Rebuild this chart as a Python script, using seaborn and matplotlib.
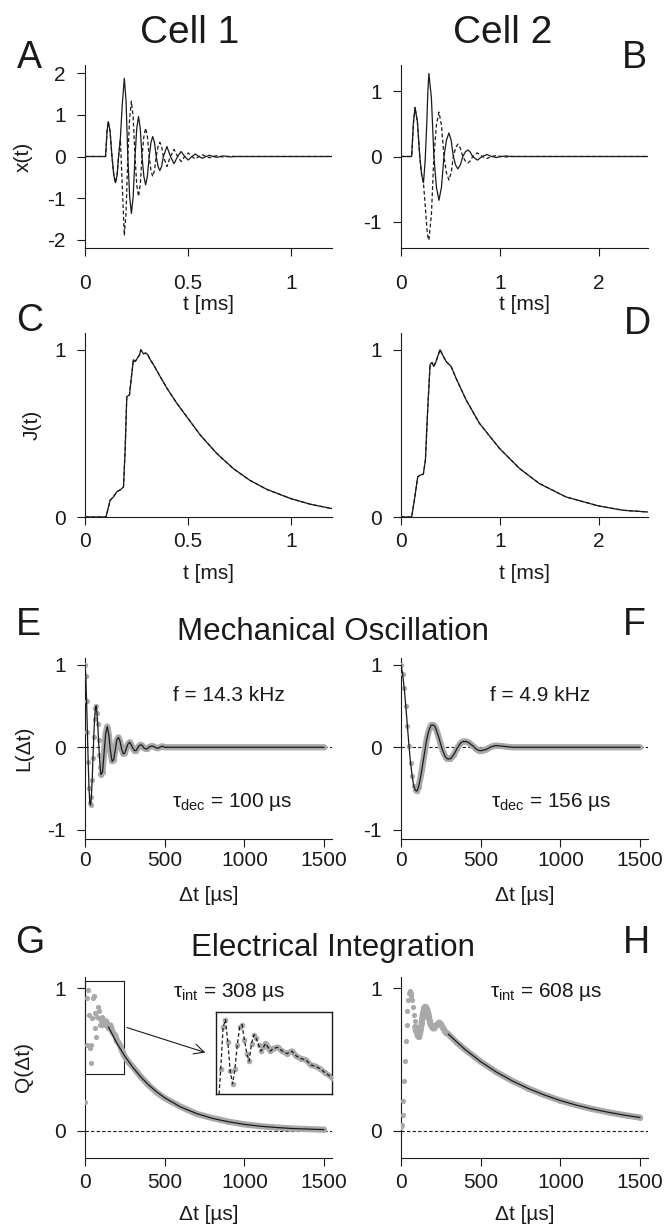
import numpy as np
import seaborn as sns
import matplotlib.pyplot as plt
from matplotlib.patches import Rectangle

# ---------------- data ----------------
# A: x(t), cell 1 (t in ms); solid and dashed responses
a_t = [0, 0.100, 0.107, 0.113, 0.122, 0.131, 0.140, 0.148, 0.156, 0.163,
       0.172, 0.181, 0.191, 0.1995, 0.208, 0.217, 0.2255, 0.234, 0.243, 0.2515,
       0.260, 0.2685, 0.277, 0.286, 0.2945, 0.303, 0.312, 0.3205, 0.329, 0.3375,
       0.346, 0.355, 0.3635, 0.372, 0.381, 0.398, 0.415, 0.4325, 0.450, 0.467,
       0.484, 0.5015, 0.519, 0.536, 0.553, 0.5705, 0.588, 0.605, 0.622, 0.640,
       0.657, 0.674, 0.691, 0.709, 0.726, 1.2]
a_solid = [0, 0, 0.60, 0.84, 0.60, 0, -0.45, -0.63, -0.45, 0,
           0.45, 1.25, 1.88, 1.33, 0, -0.97, -1.37, -0.97, 0, 0.68,
           0.96, 0.68, 0, -0.48, -0.68, -0.48, 0, 0.34, 0.48, 0.34,
           0, -0.24, -0.34, -0.24, 0, 0.24, 0, -0.17, 0, 0.12,
           0, -0.085, 0, 0.06, 0, -0.042, 0, 0.03, 0, -0.02,
           0, 0.014, 0, -0.01, 0, 0]
a_dashed = [0, 0, 0.60, 0.84, 0.60, 0, -0.45, -0.63, -0.45, 0,
            0.40, -0.70, -1.90, -1.35, 0, 0.94, 1.33, 0.94, 0, -0.68,
            -0.96, -0.68, 0, 0.48, 0.68, 0.48, 0, -0.34, -0.48, -0.34,
            0, 0.24, 0.34, 0.24, 0, -0.24, 0, 0.17, 0, -0.12,
            0, 0.085, 0, -0.06, 0, 0.042, 0, -0.03, 0, 0.02,
            0, -0.014, 0, 0.01, 0, 0]

# B: x(t), cell 2
b_t = [0, 0.108, 0.125, 0.142, 0.166, 0.190, 0.209, 0.228,
       0.245, 0.262, 0.272, 0.282, 0.3075, 0.333, 0.3585, 0.384,
       0.4095, 0.435, 0.46, 0.485, 0.5075, 0.53, 0.5525, 0.575,
       0.60, 0.626, 0.651, 0.677, 0.70, 0.725,
       0.773, 0.822, 0.870, 0.917, 0.965, 1.012, 1.06, 1.11, 2.5]
b_solid = [0, 0, 0.50, 0.75, 0.53, 0, -0.28, -0.40,
           -0.05, 0.55, 1.0, 1.27, 0.90, 0, -0.47, -0.67,
           -0.47, 0, 0.25, 0.36, 0.25, 0, -0.13, -0.19,
           -0.13, 0, 0.07, 0.10, 0.07, 0,
           -0.055, 0, 0.03, 0, -0.016, 0, 0.008, 0, 0]
b_dashed = [0, 0, 0.50, 0.75, 0.53, 0, -0.28, -0.42,
            -0.75, -1.10, -1.23, -1.28, -0.90, 0, 0.48, 0.68,
            0.48, 0, -0.25, -0.36, -0.25, 0, 0.13, 0.19,
            0.13, 0, -0.07, -0.10, -0.07, 0,
            0.055, 0, -0.03, 0, 0.016, 0, -0.008, 0, 0]

# C: J(t), cell 1
c_t = [0, 0.102, 0.122, 0.138, 0.154, 0.174, 0.187, 0.195, 0.203, 0.216,
       0.224, 0.235, 0.244, 0.255, 0.265, 0.271, 0.284, 0.295, 0.305, 0.317,
       0.333, 0.365, 0.398, 0.446, 0.5, 0.56, 0.64, 0.72, 0.80, 0.885,
       1.0, 1.096, 1.2]
c_j = [0, 0, 0.10, 0.12, 0.15, 0.165, 0.18, 0.40, 0.72, 0.73,
       0.82, 0.94, 0.93, 0.95, 0.97, 1.0, 0.976, 0.98, 0.97, 0.94,
       0.91, 0.84, 0.77, 0.68, 0.59, 0.49, 0.38, 0.29, 0.22, 0.164,
       0.11, 0.076, 0.05]

# D: J(t), cell 2
d_t = [0, 0.108, 0.135, 0.169, 0.193, 0.226, 0.247, 0.27, 0.294, 0.314,
       0.331, 0.355, 0.372, 0.395, 0.42, 0.456, 0.507, 0.557, 0.659, 0.794,
       0.997, 1.2, 1.4, 1.67, 2.0, 2.25, 2.5]
d_j = [0, 0, 0.10, 0.24, 0.25, 0.256, 0.34, 0.64, 0.91, 0.924,
       0.90, 0.93, 0.96, 1.0, 0.97, 0.93, 0.90, 0.83, 0.70, 0.56,
       0.41, 0.29, 0.20, 0.12, 0.066, 0.04, 0.03]

# E: L(dt), cell 1 (dt in us)
e_lag = ([0, 5, 10, 15, 20, 25, 30, 35, 40, 45, 50, 55, 60, 65, 70, 75, 80, 85, 90, 95, 100]
         + [110, 120, 130, 140, 150, 160, 170, 180, 190, 200, 210, 220, 230, 240, 250,
            260, 270, 280, 290, 300, 310, 320, 330, 340, 350, 360, 370, 380, 390, 400,
            410, 420, 430, 440, 450, 460, 470, 480, 490, 500]
         + [600, 700, 800, 900, 1000, 1100, 1200, 1300, 1400, 1500])
e_val = ([1.00, 0.86, 0.56, 0.19, -0.18, -0.49, -0.67, -0.70, -0.60, -0.40, -0.13,
          0.13, 0.34, 0.47, 0.50, 0.42, 0.28, 0.09, -0.09, -0.24, -0.33]
         + [-0.30, -0.06, 0.17, 0.25, 0.14, -0.05, -0.17, -0.15, -0.03, 0.09, 0.12, 0.07,
            -0.02, -0.08, -0.07, -0.01, 0.04, 0.06, 0.03, -0.01, -0.04, -0.04, -0.01, 0.02,
            0.03, 0.02, -0.01, -0.02, -0.02, 0.00, 0.01, 0.015, 0.01, 0.0, -0.01, -0.01,
            0.0, 0.01, 0.01, 0.0]
         + [0, 0, 0, 0, 0, 0, 0, 0, 0, 0])

# F: L(dt), cell 2
f_lag = list(range(0, 610, 10)) + [700, 800, 900, 1000, 1100, 1200, 1300, 1400, 1500]
f_val = [1.00, 0.89, 0.72, 0.50, 0.26, 0.02, -0.19, -0.35, -0.47, -0.52,
         -0.53, -0.48, -0.39, -0.28, -0.16, -0.04, 0.08, 0.17, 0.23, 0.27,
         0.27, 0.26, 0.22, 0.16, 0.10, 0.03, -0.03, -0.08, -0.12, -0.14,
         -0.14, -0.14, -0.12, -0.09, -0.06, -0.02, 0.01, 0.04, 0.06, 0.07,
         0.07, 0.07, 0.06, 0.05, 0.03, 0.02, 0.00, -0.02, -0.03, -0.04,
         -0.04, -0.04, -0.03, -0.03, -0.02, -0.01, 0.00, 0.01, 0.01, 0.02,
         0.02, 0, 0, 0, 0, 0, 0, 0, 0, 0]

# G: Q(dt), cell 1 data and exponential fit
g_lag = ([3, 10, 15, 20, 25, 30, 35, 40, 45, 50, 55, 60, 65, 70, 75, 80, 85, 90, 95,
          100, 105, 110, 115, 120]
         + [130, 140, 150, 160, 170, 180, 190, 200, 210, 220, 230]
         + [245, 275, 300, 350, 400, 450, 500]
         + [600, 700, 800, 900, 1000, 1100, 1200, 1300, 1400, 1500])
g_q = ([0.20, 0.60, 0.93, 0.99, 0.81, 0.58, 0.48, 0.60, 0.79, 0.93, 0.95, 0.83, 0.72,
        0.66, 0.80, 0.87, 0.84, 0.79, 0.74, 0.77, 0.80, 0.77, 0.74, 0.76]
       + [0.77, 0.74, 0.72, 0.74, 0.70, 0.68, 0.67, 0.63, 0.62, 0.60, 0.57]
       + [0.53, 0.48, 0.45, 0.38, 0.32, 0.27, 0.23]
       + [0.17, 0.12, 0.09, 0.065, 0.046, 0.033, 0.024, 0.017, 0.013, 0.009])
g_fit_lag = [147, 200, 250, 300, 350, 400, 450, 500, 600, 700, 800, 900, 1000,
             1100, 1200, 1300, 1400, 1500]
g_fit = [0.73, 0.616, 0.524, 0.446, 0.379, 0.322, 0.274, 0.233, 0.168, 0.122,
         0.088, 0.064, 0.046, 0.033, 0.024, 0.017, 0.013, 0.009]

# H: Q(dt), cell 2 data and exponential fit
h_lag = (list(range(0, 195, 5)) + [200, 210, 220, 230, 240, 250, 260, 270, 280, 296,
                                  350, 400, 500, 600, 700, 800, 900, 1000, 1100,
                                  1200, 1300, 1400, 1500])
h_q = [0.03, 0.04, 0.11, 0.21, 0.35, 0.49, 0.63, 0.74, 0.84, 0.92,
       0.97, 0.98, 0.97, 0.95, 0.92, 0.87, 0.81, 0.77, 0.73, 0.70,
       0.69, 0.67, 0.66, 0.67, 0.69, 0.72, 0.76, 0.80, 0.83, 0.86,
       0.87, 0.87, 0.86, 0.85, 0.83, 0.80, 0.77, 0.75, 0.74,
       0.72, 0.72, 0.74, 0.75, 0.76, 0.75, 0.73, 0.71, 0.69, 0.68,
       0.62, 0.573, 0.486, 0.412, 0.35, 0.297, 0.252, 0.213, 0.181,
       0.154, 0.131, 0.111, 0.094]
h_fit_lag = [296, 400, 500, 600, 700, 800, 900, 1000, 1100, 1200, 1300, 1400, 1500]
h_fit = [0.68, 0.573, 0.486, 0.412, 0.35, 0.297, 0.252, 0.213, 0.181, 0.154,
         0.131, 0.111, 0.094]

# ---------------- style ----------------
sns.set_theme(style="ticks", rc={"axes.edgecolor": "k", "xtick.color": "k",
                                 "ytick.color": "k", "text.color": "k",
                                 "axes.labelcolor": "k", "axes.linewidth": 0.8})
plt.rcParams["font.family"] = ["Liberation Sans", "DejaVu Sans"]
plt.rcParams["mathtext.fontset"] = "custom"
plt.rcParams["mathtext.rm"] = "Liberation Sans"
plt.rcParams["mathtext.it"] = "Liberation Sans:italic"
plt.rcParams["axes.unicode_minus"] = False

GRAY = "#a9a9a9"
DASH = (0, (3, 2))
W, H = 666, 1226
fig = plt.figure(figsize=(W / 100, H / 100), dpi=100)


def panel(x0, y0, x1, y1):
    return fig.add_axes([x0 / W, 1 - y1 / H, (x1 - x0) / W, (y1 - y0) / H])


def finish(ax, xlim, xticks, xlabels, ylim, yticks, xpad, xlabel, ylabel=None, ylab_x=-0.21):
    ax.set_xlim(xlim)
    ax.set_ylim(ylim)
    ax.set_xticks(xticks, xlabels)
    ax.set_yticks(yticks, [str(v) for v in yticks])
    ax.tick_params(direction="out", length=6, width=0.8, labelsize=15)
    ax.tick_params(axis="x", pad=xpad)
    ax.tick_params(axis="y", pad=8)
    sns.despine(ax=ax)
    h = ax.get_position().height * H
    ax.set_xlabel(xlabel, fontsize=15)
    ax.xaxis.set_label_coords(0.5, -47 / h)
    if ylabel:
        ax.set_ylabel(ylabel, fontsize=15)
        ax.yaxis.set_label_coords(ylab_x, 0.5)


def line(ax, x, y, **kw):
    sns.lineplot(x=x, y=y, ax=ax, estimator=None, sort=False, **kw)


def data_dots(ax, lag, val, band_from, s=14, band_lw=4.5):
    lag = np.asarray(lag)
    val = np.asarray(val)
    m = lag >= band_from
    line(ax, lag[m], val[m], color=GRAY, lw=band_lw, solid_capstyle="round", zorder=2)
    sns.scatterplot(x=lag, y=val, ax=ax, color=GRAY, s=s, linewidth=0, zorder=3)


# ---- A / B ----
axA = panel(85, 65, 332, 248)
line(axA, a_t, a_solid, color="k", lw=0.9)
line(axA, a_t, a_dashed, color="k", lw=0.9, linestyle=DASH)
finish(axA, (0, 1.2), [0, 0.5, 1], ["0", "0.5", "1"], (-2.2, 2.2), [-2, -1, 0, 1, 2],
       13, "t [ms]", "x(t)")

axB = panel(401, 65, 648, 248)
line(axB, b_t, b_solid, color="k", lw=0.9)
line(axB, b_t, b_dashed, color="k", lw=0.9, linestyle=DASH)
finish(axB, (0, 2.5), [0, 1, 2], ["0", "1", "2"], (-1.4, 1.4), [-1, 0, 1], 13, "t [ms]")

# ---- C / D ----
axC = panel(85, 333, 332, 517)
line(axC, c_t, c_j, color="k", lw=0.9)
line(axC, c_t, c_j, color="k", lw=0.9, linestyle=DASH)
finish(axC, (0, 1.2), [0, 0.5, 1], ["0", "0.5", "1"], (0, 1.1), [0, 1], 5, "t [ms]",
       "J(t)", ylab_x=-0.174)

axD = panel(401, 333, 648, 517)
line(axD, d_t, d_j, color="k", lw=0.9)
line(axD, d_t, d_j, color="k", lw=0.9, linestyle=DASH)
finish(axD, (0, 2.5), [0, 1, 2], ["0", "1", "2"], (0, 1.1), [0, 1], 5, "t [ms]")

# ---- E / F ----
lag_ticks = [0, 500, 1000, 1500]
lag_labels = ["0", "500", "1000", "1500"]

axE = panel(85, 658, 332, 839)
axE.axhline(0, color="k", lw=0.8, ls=DASH, zorder=1)
data_dots(axE, e_lag, e_val, 100)
line(axE, e_lag, e_val, color="k", lw=0.9, zorder=4)
finish(axE, (0, 1550), lag_ticks, lag_labels, (-1.11, 1.08), [-1, 0, 1], 3,
       "Δt [µs]", "L(Δt)")
axE.text(0.583, 0.764, "f = 14.3 kHz", transform=axE.transAxes, ha="center",
         va="baseline", fontsize=15)
axE.text(0.595, 0.177, "τ$_{\\mathrm{dec}}$ = 100 µs", transform=axE.transAxes,
         ha="center", va="baseline", fontsize=15)

axF = panel(401, 658, 648, 839)
axF.axhline(0, color="k", lw=0.8, ls=DASH, zorder=1)
data_dots(axF, f_lag, f_val, 100)
line(axF, f_lag, f_val, color="k", lw=0.9, zorder=4)
finish(axF, (0, 1550), lag_ticks, lag_labels, (-1.11, 1.08), [-1, 0, 1], 3, "Δt [µs]")
axF.text(0.561, 0.764, "f = 4.9 kHz", transform=axF.transAxes, ha="center",
         va="baseline", fontsize=15)
axF.text(0.609, 0.177, "τ$_{\\mathrm{dec}}$ = 156 µs", transform=axF.transAxes,
         ha="center", va="baseline", fontsize=15)

# ---- G / H ----
axG = panel(85, 977, 332, 1158)
axG.axhline(0, color="k", lw=0.8, ls=DASH, zorder=1)
data_dots(axG, g_lag, g_q, 120)
line(axG, g_fit_lag, g_fit, color="k", lw=0.9, zorder=4)
finish(axG, (0, 1550), lag_ticks, lag_labels, (-0.19, 1.08), [0, 1], 5,
       "Δt [µs]", "Q(Δt)")
axG.text(0.585, 0.89, "τ$_{\\mathrm{int}}$ = 308 µs", transform=axG.transAxes,
         ha="center", va="baseline", fontsize=15)
axG.add_patch(Rectangle((0, 0.40), 245, 0.65, fill=False, ec="k", lw=0.8, clip_on=False))
axG.annotate("", xy=(755, 0.55), xytext=(264, 0.725),
             arrowprops=dict(arrowstyle="->", color="k", lw=0.8, mutation_scale=18,
                             shrinkA=0, shrinkB=0))

axI = panel(216, 1012, 332, 1094)
data_dots(axI, g_lag, g_q, 100, s=16, band_lw=4)
line(axI, g_lag, g_q, color="k", lw=0.9, linestyle=DASH, zorder=4)
axI.set_xlim(0, 245)
axI.set_ylim(0.40, 1.05)
axI.set_xticks([])
axI.set_yticks([])
axI.set_xlabel("")
axI.set_ylabel("")
for sp in axI.spines.values():
    sp.set_linewidth(1.0)

axH = panel(401, 977, 648, 1158)
axH.axhline(0, color="k", lw=0.8, ls=DASH, zorder=1)
data_dots(axH, h_lag, h_q, 90)
line(axH, h_fit_lag, h_fit, color="k", lw=0.9, zorder=4)
finish(axH, (0, 1550), lag_ticks, lag_labels, (-0.19, 1.08), [0, 1], 5, "Δt [µs]")
axH.text(0.59, 0.89, "τ$_{\\mathrm{int}}$ = 608 µs", transform=axH.transAxes,
         ha="center", va="baseline", fontsize=15)


# ---- titles and panel letters ----
def ftext(x, y, s, size):
    fig.text(x / W, 1 - y / H, s, ha="center", va="center", fontsize=size)


ftext(190, 33, "Cell 1", 28)
ftext(503, 33, "Cell 2", 28)
ftext(333, 632, "Mechanical Oscillation", 22.5)
ftext(333, 948, "Electrical Integration", 22.5)
for letter, x, y in [("A", 29, 58), ("B", 634, 58), ("C", 30, 321), ("D", 637, 324),
                     ("E", 28, 625), ("F", 634, 625), ("G", 30, 943), ("H", 636, 943)]:
    ftext(x, y, letter, 27)

fig.savefig("out.png", dpi=100)
